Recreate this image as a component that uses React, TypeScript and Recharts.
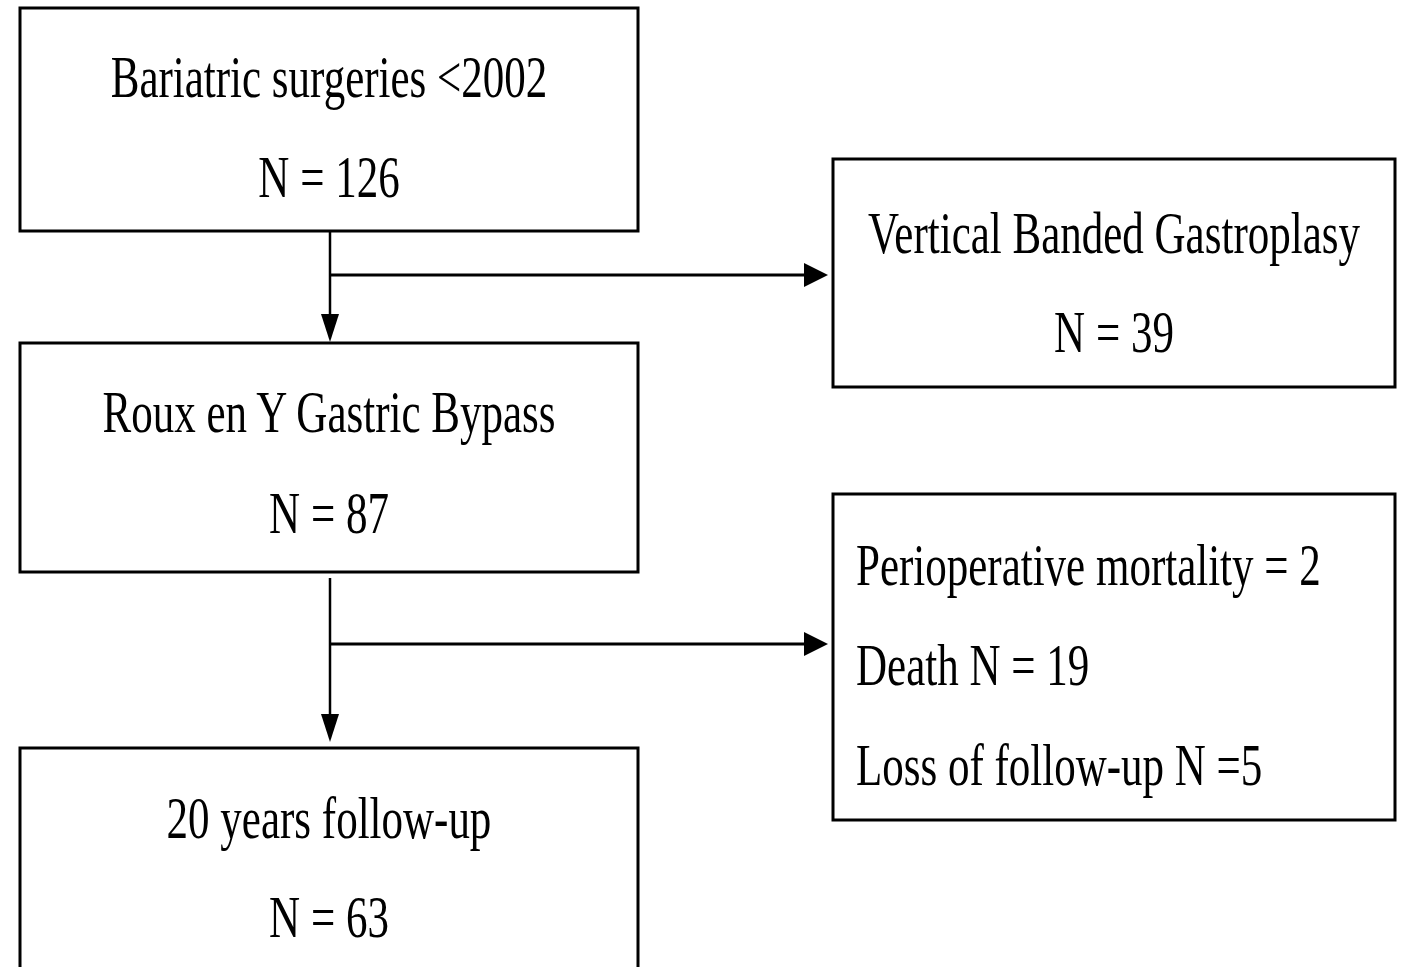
import React from "react";
import {
  ScatterChart,
  Scatter,
  XAxis,
  YAxis,
  ReferenceArea,
  ReferenceLine,
} from "recharts";

// flow coordinates: x 0..1405 left->right, y 0..967 top->bottom
const boxX1 = [20, 833, 20, 833, 20];
const boxX2 = [638, 1395, 638, 1395, 638];
const boxY1 = [8, 159, 343, 494, 748];
const boxY2 = [231, 387, 572, 820, 975];

const labelText = [
  "Bariatric surgeries <2002",
  "N = 126",
  "Vertical Banded Gastroplasy",
  "N = 39",
  "Roux en Y Gastric Bypass",
  "N = 87",
  "Perioperative mortality = 2",
  "Death N = 19",
  "Loss of follow-up N =5",
  "20 years follow-up",
  "N = 63",
];
const labelX = [329, 329, 1114, 1114, 329, 329, 856, 856, 856, 329, 329];
const labelY = [97, 197, 253, 352, 432, 533, 585, 685, 785, 838, 937];
const labelAnchor = [
  "middle", "middle", "middle", "middle", "middle", "middle",
  "start", "start", "start", "middle", "middle",
];

const connFromX = [330, 330, 330, 330];
const connFromY = [231, 275, 578, 644];
const connToX = [330, 806, 330, 806];
const connToY = [318, 275, 714, 644];

const tipX = [330, 828, 330, 828];
const tipY = [342, 275, 742, 644];
const tipDir = ["down", "right", "down", "right"];

const labels = labelText.map((t, i) => ({
  x: labelX[i],
  y: labelY[i],
  text: t,
  anchor: labelAnchor[i],
}));
const tips = tipX.map((x, i) => ({ x, y: tipY[i], dir: tipDir[i] }));

const W = 1405;
const H = 967;

const LabelShape = (props: any) => {
  const { cx, cy, payload } = props;
  return (
    <text
      transform={`translate(${cx},${cy}) scale(1,1.37)`}
      textAnchor={payload.anchor}
      fontFamily="'Liberation Serif', 'Times New Roman', serif"
      fontSize={43}
      fill="#000"
    >
      {payload.text}
    </text>
  );
};

const TipShape = (props: any) => {
  const { cx, cy, payload } = props;
  const d =
    payload.dir === "down"
      ? `M${cx - 9},${cy - 28} L${cx + 9},${cy - 28} L${cx},${cy} Z`
      : `M${cx - 24},${cy - 12} L${cx - 24},${cy + 12} L${cx},${cy} Z`;
  return <path d={d} fill="#000" />;
};

export default function App() {
  return (
    <div style={{ position: "absolute", left: 0, top: 0, background: "#fff" }}>
      <ScatterChart width={W} height={H} margin={{ top: 0, right: 0, bottom: 0, left: 0 }}>
        <XAxis type="number" dataKey="x" domain={[0, W]} hide allowDataOverflow />
        <YAxis type="number" dataKey="y" domain={[0, H]} reversed hide allowDataOverflow />
        {boxX1.map((x1, i) => (
          <ReferenceArea
            key={"b" + i}
            x1={x1}
            x2={boxX2[i]}
            y1={boxY1[i]}
            y2={boxY2[i]}
            fill="#fff"
            fillOpacity={1}
            stroke="#000"
            strokeWidth={3}
            ifOverflow="visible"
          />
        ))}
        {connFromX.map((x, i) => (
          <ReferenceLine
            key={"c" + i}
            segment={[
              { x, y: connFromY[i] },
              { x: connToX[i], y: connToY[i] },
            ]}
            stroke="#000"
            strokeWidth={connFromX[i] === connToX[i] ? 2.5 : 3}
            ifOverflow="visible"
          />
        ))}
        <Scatter data={tips} shape={TipShape} isAnimationActive={false} />
        <Scatter data={labels} shape={LabelShape} isAnimationActive={false} />
      </ScatterChart>
    </div>
  );
}
